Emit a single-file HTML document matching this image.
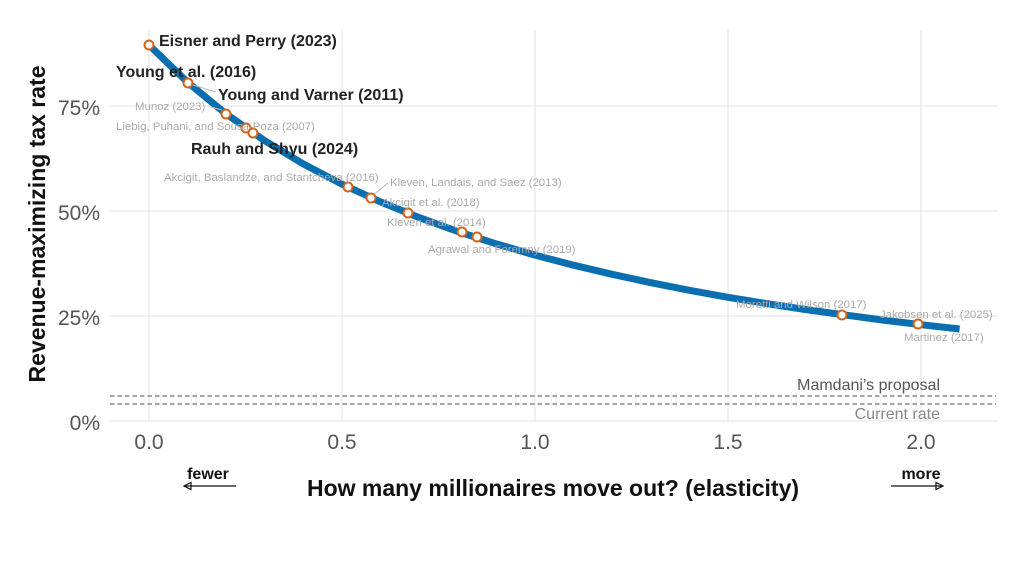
<!DOCTYPE html>
<html><head><meta charset="utf-8"><style>
body{margin:0;background:#fff}
svg{display:block;font-family:"Liberation Sans",sans-serif}
</style></head><body>
<svg width="1024" height="566" viewBox="0 0 1024 566">
<g stroke="#e3e3e3" stroke-width="1">
<line x1="110" y1="421" x2="998" y2="421"/>
<line x1="110" y1="316" x2="998" y2="316"/>
<line x1="110" y1="211" x2="998" y2="211"/>
<line x1="110" y1="106" x2="998" y2="106"/>
<line x1="149" y1="30" x2="149" y2="421"/>
<line x1="342" y1="30" x2="342" y2="421"/>
<line x1="535" y1="30" x2="535" y2="421"/>
<line x1="728" y1="30" x2="728" y2="421"/>
<line x1="921" y1="30" x2="921" y2="421"/>
</g>
<g stroke="#8a8a8a" stroke-width="1.6" stroke-dasharray="4.5,3">
<line x1="110" y1="396" x2="996" y2="396"/>
<line x1="110" y1="404" x2="996" y2="404"/>
</g>
<text x="940" y="390" font-size="16" fill="#555" text-anchor="end">Mamdani’s proposal</text>
<text x="940" y="419" font-size="16" fill="#888" text-anchor="end">Current rate</text>
<polyline points="149,45 187.6,82.3 226.2,114 264.8,140.8 303.4,164 342,184.2 380.6,201.9 419.2,217.6 457.8,231.5 496.4,243.9 535,255.1 573.6,265.2 612.2,274.3 650.8,282.7 689.4,290.3 728,297.3 766.6,303.6 805.2,309.5 843.8,314.8 882.4,320 921,324.7 959.6,329" fill="none" stroke="#0a6fb0" stroke-width="7" stroke-linejoin="round"/>
<g stroke="#bbb" stroke-width="1" fill="none">
<line x1="190" y1="84" x2="216" y2="92"/>
<line x1="211" y1="107" x2="222" y2="110"/>
<line x1="372" y1="196" x2="388" y2="183"/>
</g>
<g fill="#fff" stroke="#d2631a" stroke-width="2">
<circle cx="149" cy="45" r="4.5"/><circle cx="188" cy="83" r="4.5"/><circle cx="226" cy="114" r="4.5"/>
<circle cx="246" cy="128" r="4.5"/><circle cx="253" cy="133" r="4.5"/><circle cx="348" cy="187" r="4.5"/>
<circle cx="371" cy="198" r="4.5"/><circle cx="408" cy="213" r="4.5"/><circle cx="462" cy="232" r="4.5"/>
<circle cx="477" cy="237" r="4.5"/><circle cx="842" cy="315" r="4.5"/><circle cx="918" cy="324" r="4.5"/>
</g>
<g font-size="16" font-weight="bold" fill="#222">
<text x="159" y="46">Eisner and Perry (2023)</text>
<text x="116" y="77">Young et al. (2016)</text>
<text x="218" y="100">Young and Varner (2011)</text>
<text x="191" y="154">Rauh and Shyu (2024)</text>
</g>
<g font-size="11.4" fill="#aaa">
<text x="135" y="110">Munoz (2023)</text>
<text x="116" y="130">Liebig, Puhani, and Sousa-Poza (2007)</text>
<text x="164" y="181">Akcigit, Baslandze, and Stantcheva (2016)</text>
<text x="390" y="186">Kleven, Landais, and Saez (2013)</text>
<text x="382" y="206">Akcigit et al. (2018)</text>
<text x="387" y="226">Kleven et al. (2014)</text>
<text x="428" y="253">Agrawal and Foremny (2019)</text>
<text x="736" y="308">Moretti and Wilson (2017)</text>
<text x="880" y="318">Jakobsen et al. (2025)</text>
<text x="904" y="341">Martinez (2017)</text>
</g>
<g font-size="21" fill="#555">
<text x="100" y="430" text-anchor="end">0%</text>
<text x="100" y="325" text-anchor="end">25%</text>
<text x="100" y="220" text-anchor="end">50%</text>
<text x="100" y="115" text-anchor="end">75%</text>
<text x="149" y="449" text-anchor="middle">0.0</text>
<text x="342" y="449" text-anchor="middle">0.5</text>
<text x="535" y="449" text-anchor="middle">1.0</text>
<text x="728" y="449" text-anchor="middle">1.5</text>
<text x="921" y="449" text-anchor="middle">2.0</text>
</g>
<text x="553" y="496" font-size="23" font-weight="bold" text-anchor="middle" fill="#111">How many millionaires move out? (elasticity)</text>
<text transform="translate(45,224) rotate(-90)" font-size="23" font-weight="bold" text-anchor="middle" fill="#111">Revenue-maximizing tax rate</text>
<text x="208" y="479" font-size="16" font-weight="bold" text-anchor="middle" fill="#111">fewer</text>
<text x="921" y="479" font-size="16" font-weight="bold" text-anchor="middle" fill="#111">more</text>
<g stroke="#111" stroke-width="1.2" fill="none">
<line x1="184" y1="486" x2="236" y2="486"/><polygon points="191,482.5 184,486 191,489.5"/>
<line x1="891" y1="486" x2="943" y2="486"/><polygon points="936,482.5 943,486 936,489.5"/>
</g>
</svg>
</body></html>
